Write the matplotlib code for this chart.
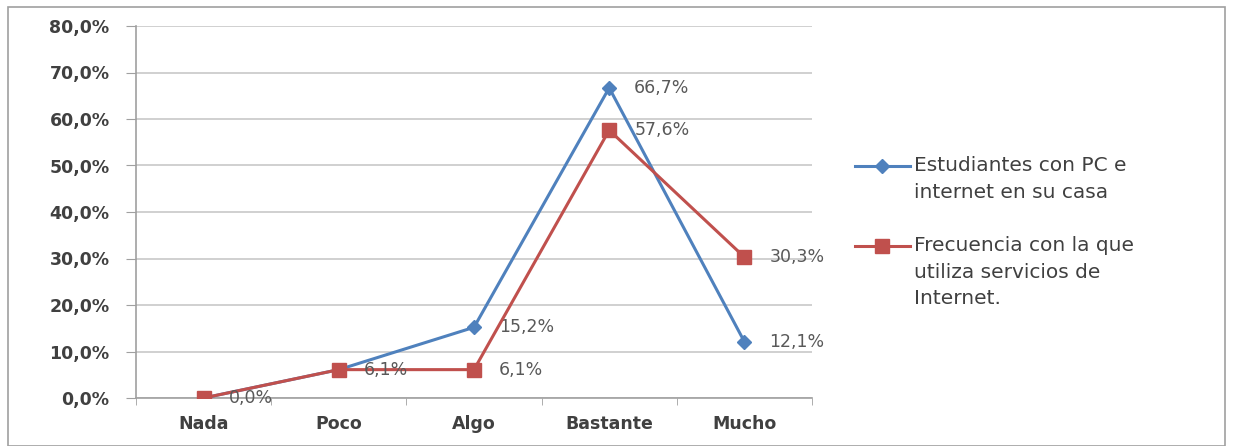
import matplotlib.pyplot as plt
from matplotlib.patches import Rectangle
from matplotlib.lines import Line2D

categories = ['Nada', 'Poco', 'Algo', 'Bastante', 'Mucho']
pc_casa = [0.0, 6.1, 15.2, 66.7, 12.1]
frecuencia = [0.0, 6.1, 6.1, 57.6, 30.3]
series_names = ['Estudiantes con PC e\ninternet en su casa',
                'Frecuencia con la que\nutiliza servicios de\nInternet.']
y_ticks = [0, 10, 20, 30, 40, 50, 60, 70, 80]

blue = '#4F81BD'
red = '#C0504D'
txt = '#404040'

W, H = 1233, 446
fig = plt.figure(figsize=(W / 100, H / 100), dpi=100)
fig.patches.append(Rectangle((8 / W, 0), 1217 / W, 1 - 7 / H,
                             transform=fig.transFigure, fill=False,
                             edgecolor='#A0A0A0', linewidth=1.2))

ax = fig.add_axes([136 / W, 1 - 398 / H, 676 / W, 372 / H])
x = list(range(len(categories)))

ax.plot(x, pc_casa, color=blue, linewidth=2.2, marker='D', markersize=7.5,
        zorder=3)
ax.plot(x, frecuencia, color=red, linewidth=2.2, marker='s', markersize=10,
        zorder=4)

def fmt(v):
    return f'{v:.1f}%'.replace('.', ',')

# etiquetas de datos (en Nada y Poco las dos series coinciden)
for i, v in enumerate(pc_casa):
    if i >= 2:
        ax.annotate(fmt(v), (i, v), xytext=(18, 0), textcoords='offset points',
                    va='center', ha='left', fontsize=12.5, color='#595959')
for i, v in enumerate(frecuencia):
    ax.annotate(fmt(v), (i, v), xytext=(18, 0), textcoords='offset points',
                va='center', ha='left', fontsize=12.5, color='#595959',
                zorder=5)

ax.set_xlim(-0.5, len(categories) - 0.5)
ax.set_ylim(0, 80)
ax.set_yticks(y_ticks)
ax.set_yticklabels([f'{t},0%' for t in y_ticks], fontweight='bold',
                   fontsize=12.5, color=txt)
ax.set_xticks(x)
ax.set_xticklabels(categories, fontweight='bold', fontsize=12.5, color=txt)
ax.set_xticks([i - 0.5 for i in range(len(categories) + 1)], minor=True)
ax.tick_params(axis='x', which='major', length=0, pad=12)
ax.tick_params(axis='x', which='minor', length=5, color='#A0A0A0')
ax.tick_params(axis='y', length=7, color='#A0A0A0', pad=12)
ax.grid(axis='y', color='#C8C8C8', linewidth=1.2)
ax.set_axisbelow(True)
for s in ['top', 'right']:
    ax.spines[s].set_visible(False)
for s in ['left', 'bottom']:
    ax.spines[s].set_color('#A0A0A0')
    ax.spines[s].set_linewidth(1.2)

# leyenda a mano: el marcador va a la altura de la primera línea del texto
leg_items = [(series_names[0], blue, 'D', 7.5, 166),
             (series_names[1], red, 's', 10, 246)]
for name, col, mk, ms, yy in leg_items:
    fig.lines.append(Line2D([855 / W, 910 / W], [1 - yy / H] * 2,
                            transform=fig.transFigure, color=col,
                            linewidth=2.2))
    fig.lines.append(Line2D([882 / W], [1 - yy / H], transform=fig.transFigure,
                            color=col, marker=mk, markersize=ms,
                            linestyle='none'))
    fig.text(914 / W, 1 - (yy - 10) / H, name, ha='left', va='top',
             fontsize=14.5, color=txt, linespacing=1.5)

fig.savefig('out.png', dpi=100)
